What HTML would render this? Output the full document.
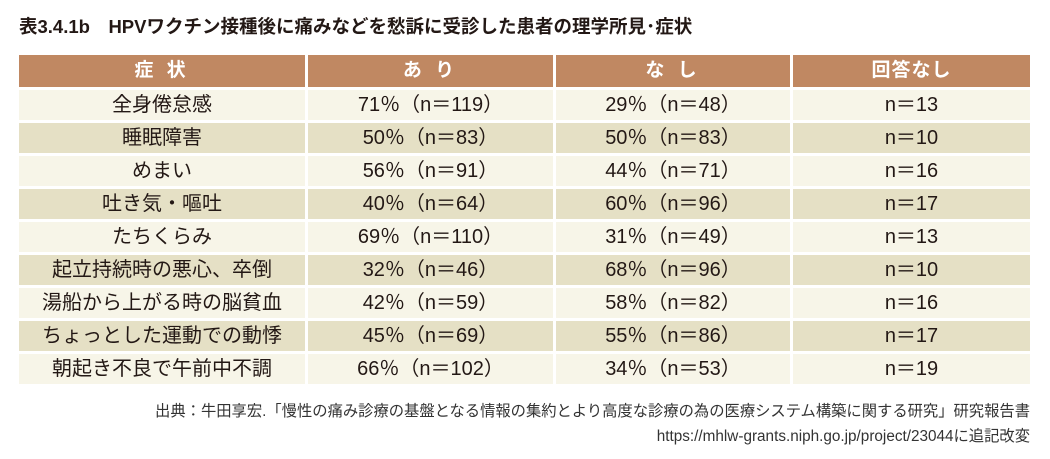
<!DOCTYPE html>
<html><head><meta charset="utf-8"><style>
body{margin:0;width:1050px;height:459px;background:#fff;font-family:"Liberation Sans","Noto Sans CJK JP",sans-serif;color:#231815;position:relative;overflow:hidden}
#title{position:absolute;left:19px;top:13px;font-size:18.5px;font-weight:bold;white-space:nowrap}
table{position:absolute;left:16px;top:52px;border-collapse:separate;border-spacing:3px}
td,th{text-align:center;padding:0;font-size:20px;line-height:30px;height:30px;white-space:nowrap}
th{background:#C08862;color:#fff;font-weight:bold;height:32px;letter-spacing:4px;font-size:19px}
tr.l td{background:#F7F5E8}
tr.d td{background:#E5E0C5}
.foot{position:absolute;right:20px;font-size:15.3px;color:#333;white-space:nowrap}
</style></head><body>
<div id="title">表3.4.1b　HPVワクチン接種後に痛みなどを愁訴に受診した患者の理学所見･症状</div>
<table>
<tr><th style="width:286px">症 状</th><th style="width:245px">あ り</th><th style="width:234px">な し</th><th style="width:237px;letter-spacing:1px">回答なし</th></tr>
<tr class="l"><td>全身倦怠感</td><td>71％（n＝119）</td><td>29％（n＝48）</td><td>n＝13</td></tr>
<tr class="d"><td>睡眠障害</td><td>50％（n＝83）</td><td>50％（n＝83）</td><td>n＝10</td></tr>
<tr class="l"><td>めまい</td><td>56％（n＝91）</td><td>44％（n＝71）</td><td>n＝16</td></tr>
<tr class="d"><td>吐き気・嘔吐</td><td>40％（n＝64）</td><td>60％（n＝96）</td><td>n＝17</td></tr>
<tr class="l"><td>たちくらみ</td><td>69％（n＝110）</td><td>31％（n＝49）</td><td>n＝13</td></tr>
<tr class="d"><td>起立持続時の悪心、卒倒</td><td>32％（n＝46）</td><td>68％（n＝96）</td><td>n＝10</td></tr>
<tr class="l"><td>湯船から上がる時の脳貧血</td><td>42％（n＝59）</td><td>58％（n＝82）</td><td>n＝16</td></tr>
<tr class="d"><td>ちょっとした運動での動悸</td><td>45％（n＝69）</td><td>55％（n＝86）</td><td>n＝17</td></tr>
<tr class="l"><td>朝起き不良で午前中不調</td><td>66％（n＝102）</td><td>34％（n＝53）</td><td>n＝19</td></tr>
</table>
<div class="foot" style="top:399px">出典：牛田享宏.「慢性の痛み診療の基盤となる情報の集約とより高度な診療の為の医療システム構築に関する研究」研究報告書</div>
<div class="foot" style="top:424px">https://mhlw-grants.niph.go.jp/project/23044に追記改変</div>
</body></html>
